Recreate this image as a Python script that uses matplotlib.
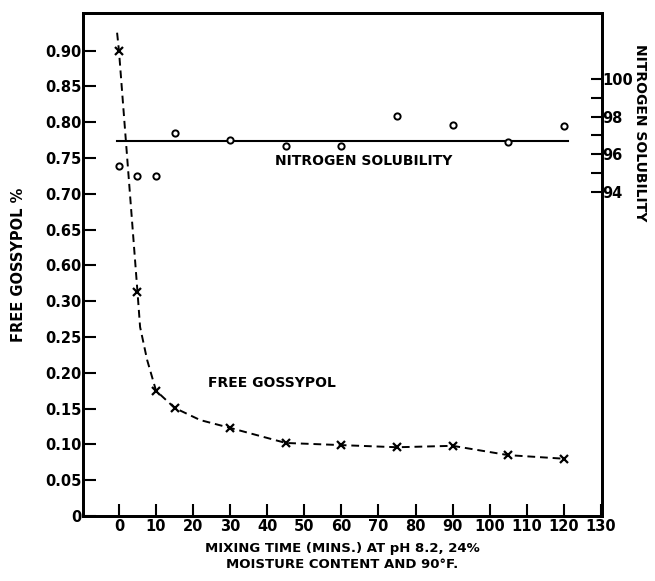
import numpy as np
import matplotlib
matplotlib.use("Agg")
import matplotlib.pyplot as plt

# datos
tiempo = [0, 5, 10, 15, 30, 45, 60, 75, 90, 105, 120]
gosipol = [0.90, 0.313, 0.175, 0.151, 0.123, 0.102, 0.099, 0.096, 0.098, 0.085, 0.080]
solubilidad = [95.4, 94.85, 94.85, 97.13, 96.76, 96.45, 96.45, 98.04, 97.55, 96.65, 97.5]

# curva a trazos (puntos leidos sobre la curva dibujada)
curva_x = [-0.5, 0, 5, 5.7, 7.6, 10, 15, 21.9, 30, 45, 60, 75, 90, 105, 120]
curva_y = [0.925, 0.90, 0.313, 0.264, 0.218, 0.175, 0.151, 0.134, 0.123, 0.102, 0.099, 0.096, 0.098, 0.085, 0.080]

nivel_solubilidad = 96.7
linea_x = [-0.5, 121]

xticks = list(range(0, 140, 10))
yticks = [0, 0.05, 0.10, 0.15, 0.20, 0.25, 0.30, 0.60, 0.65, 0.70, 0.75, 0.80, 0.85, 0.90]
yticklabels = ["0", "0.05", "0.10", "0.15", "0.20", "0.25", "0.30",
               "0.60", "0.65", "0.70", "0.75", "0.80", "0.85", "0.90"]
rticks = [94, 96, 98, 100]
rminor = [95, 97, 99]


# escala con corte entre 0.30 y 0.60
def adelante(y):
    y = np.asarray(y, dtype=float)
    medio = 0.32 + (y - 0.32) * 0.03 / 0.28
    return np.where(y <= 0.32, y, np.where(y >= 0.6, y - 0.25, medio))


def atras(s):
    s = np.asarray(s, dtype=float)
    medio = 0.32 + (s - 0.32) * 0.28 / 0.03
    return np.where(s <= 0.32, s, np.where(s >= 0.35, s + 0.25, medio))


plt.rcParams["font.family"] = "DejaVu Sans"
plt.rcParams["font.weight"] = "bold"

fig = plt.figure(figsize=(6.55, 5.81), dpi=100)
ax = fig.add_axes([0.1267, 0.1119, 0.7924, 0.8657])
ax.set_yscale("function", functions=(adelante, atras))

ax.plot(curva_x, curva_y, color="black", linestyle=(0, (4, 2.5)), linewidth=1.4)
ax.plot(tiempo, gosipol, linestyle="none", marker="x", color="black",
        markersize=6, markeredgewidth=1.6)

ax.set_xlim(-9.7, 130.3)
ax.set_ylim(0, 0.9525)
ax.set_xticks(xticks)
ax.set_yticks(yticks)
ax.set_yticklabels(yticklabels)
ax.tick_params(axis="both", direction="in", length=9, width=1.5,
               labelsize=10.5, pad=2)
ax.tick_params(axis="y", pad=1)
for lado in ax.spines.values():
    lado.set_linewidth(2)

ax.set_ylabel("FREE GOSSYPOL %", fontsize=10.5, fontweight="bold", labelpad=14)
ax.set_xlabel("MIXING TIME (MINS.) AT pH 8.2, 24%\nMOISTURE CONTENT AND 90°F.",
              fontsize=9.5, fontweight="bold", labelpad=6, linespacing=1.3)

ax.text(41.4, 0.186, "FREE GOSSYPOL", ha="center", va="center",
        fontsize=10, fontweight="bold")

# eje derecho: solubilidad de nitrogeno
ax2 = ax.twinx()
ax2.plot(linea_x, [nivel_solubilidad, nivel_solubilidad], color="black", linewidth=1.5)
ax2.plot(tiempo, solubilidad, linestyle="none", marker="o", markersize=4.5,
         markerfacecolor="white", markeredgecolor="black", markeredgewidth=1.4)
ax2.set_ylim(76.8, 103.5)
ax2.set_yticks(rticks)
ax2.set_yticks(rminor, minor=True)
ax2.tick_params(axis="y", which="both", direction="in", length=8, width=1.5,
                labelsize=10.5, pad=0)
for lado in ax2.spines.values():
    lado.set_linewidth(2)

ax2.text(65.9, 95.65, "NITROGEN SOLUBILITY", ha="center", va="center",
         fontsize=10, fontweight="bold")

fig.text(0.977, 1 - 133 / 581, "NITROGEN SOLUBILITY", rotation=-90,
         ha="center", va="center", fontsize=10, fontweight="bold")

fig.savefig("out.png", dpi=100)
